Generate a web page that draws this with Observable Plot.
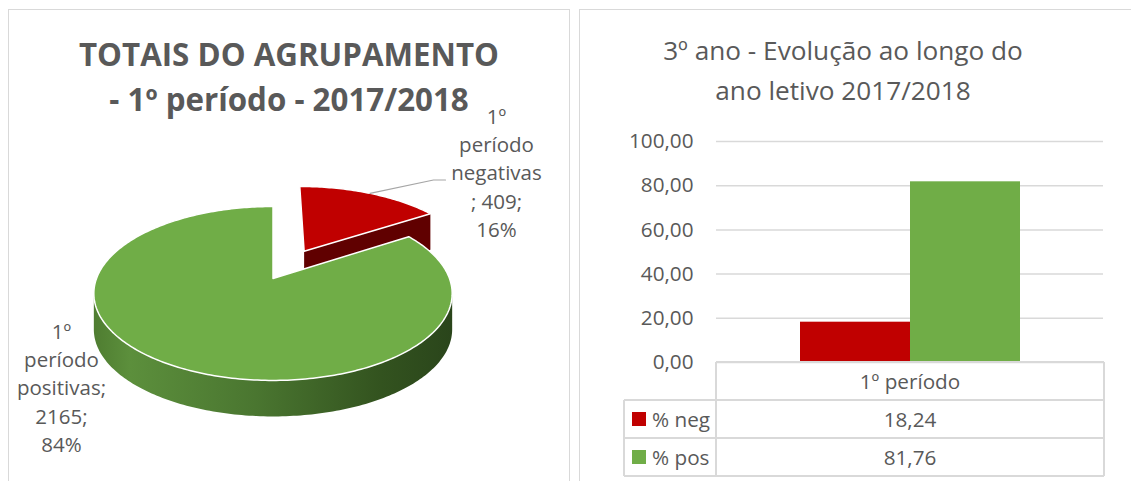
<!DOCTYPE html>
<html>
<head>
<meta charset="utf-8">
<script src="https://cdn.jsdelivr.net/npm/d3@7"></script>
<script src="https://cdn.jsdelivr.net/npm/@observablehq/plot@0.6"></script>
<style>
  html, body { margin: 0; padding: 0; background: #ffffff; }
  #root { position: relative; width: 1131px; height: 481px; overflow: hidden; font-family: "Open Sans", sans-serif; color: #595959; }
  .panel { position: absolute; border: 1.5px solid #d9d9d9; box-sizing: border-box; background: #fff; }
  .abs { position: absolute; }
  .hline { position: absolute; height: 1.5px; background: #d9d9d9; }
  .vline { position: absolute; width: 1.5px; background: #d9d9d9; }
  .cell { position: absolute; display: flex; align-items: center; justify-content: center; font-size: 20.7px; color: #595959; white-space: nowrap; }
  .sw { display: inline-block; width: 14px; height: 14px; margin-right: 6px; }
</style>
</head>
<body>
<div id="root"></div>
<script>
// ---------------- DATA ----------------
const pieTitle = ["TOTAIS DO AGRUPAMENTO", "- 1º período - 2017/2018"];
const pieCategories = ["1º período negativas", "1º período positivas"];
const pieValues = [409, 2165];
const pieColors = ["#c00000", "#70ad47"];

const barTitle = ["3º ano - Evolução ao longo do", "ano letivo 2017/2018"];
const barPeriods = ["1º período"];
const barSeries = ["% neg", "% pos"];
const barValues = [18.24, 81.76];
const barColors = ["#c00000", "#70ad47"];
const yTicks = [0, 20, 40, 60, 80, 100];

// ---------------- LAYOUT / STYLE ----------------
const TEXT = "#595959";
const FONT = "'Open Sans', sans-serif";
const H = 481;
const PIE_W = 575;
const BAR_LEFT = 575, BAR_W = 556;
// 3D pie projection (pixel geometry)
const G = {cx: 272.5, cy: 278, R: 176.5, ry: 84.4, k: 0.172, h: 36};
const explode = [0.39, 0];
const cutFaceColors = ["#600000", "#3a5e24"];
const sideStops = [
  [["0", "#5e0000"], ["1", "#4a0000"]],
  [["0", "#4f7d31"], ["0.1", "#5c8f3c"], ["0.45", "#4a7630"], ["0.8", "#33531f"], ["1", "#2a451b"]]
];
// label anchor (centre x, baseline of the last line)
const labelPos = [{x: 496, y: 236.7}, {x: 61, y: 451.7}];
const semicolonOwnLine = [true, false];
const leaderEnd = [{x: 433, y: 179.5}, {x: 445, y: 179.5}];
const titlePos = {x: 288.5, y: 110};

const fmt = v => v.toFixed(2).replace(".", ",");

// ---------------- PIE GEOMETRY ----------------
function proj(u, d, z = 0) {
  const s = 1 / (1 - G.k * d);
  return {x: G.cx + G.R * u * s, y: G.cy + G.ry * d * s + z};
}
const total = d3.sum(pieValues);
const arcs = d3.pie().sort(null)(pieValues);
const polys = [];
const STEP = Math.PI / 180;
function range(a0, a1) {
  const n = Math.max(2, Math.ceil((a1 - a0) / STEP));
  return d3.range(n + 1).map(i => a0 + (a1 - a0) * i / n);
}
const visLo = Math.PI / 2 + Math.asin(G.k), visHi = 3 * Math.PI / 2 - Math.asin(G.k);
arcs.forEach((a, i) => {
  const mid = (a.startAngle + a.endAngle) / 2;
  const ou = explode[i] * Math.sin(mid), od = -explode[i] * Math.cos(mid);
  const P = (t, r, z) => proj(ou + r * Math.sin(t), od - r * Math.cos(t), z);
  // cut faces
  [[a.endAngle, Math.sin(a.endAngle)], [a.startAngle, -Math.sin(a.startAngle)]].forEach(([t, vis]) => {
    if (vis > 0.05) {
      polys.push({pts: [P(t, 0, 0), P(t, 1, 0), P(t, 1, G.h), P(t, 0, G.h)], fill: cutFaceColors[i], stroke: "none", sw: 0});
    }
  });
  // outer side
  const s0 = Math.max(a.startAngle, visLo), s1 = Math.min(a.endAngle, visHi);
  if (s1 > s0) {
    const r = range(s0, s1);
    const pts = r.map(t => P(t, 1, 0)).concat(r.slice().reverse().map(t => P(t, 1, G.h)));
    polys.push({pts, fill: `url(#side${i})`, stroke: "none", sw: 0});
  }
  // top face
  const top = [P(0, 0, 0)].concat(range(a.startAngle, a.endAngle).map(t => P(t, 1, 0)));
  polys.push({pts: top, fill: pieColors[i], stroke: "#ffffff", sw: 1.5});
});

// labels
const labels = arcs.map((a, i) => {
  const pct = Math.round(100 * pieValues[i] / total);
  const words = pieCategories[i].split(" ");
  const txt = semicolonOwnLine[i]
    ? words.join("\n") + `\n; ${pieValues[i]};\n${pct}%`
    : words.join("\n") + `;\n${pieValues[i]};\n${pct}%`;
  return {x: labelPos[i].x, y: labelPos[i].y, text: txt};
});
// leader line for the exploded slice
const a0 = arcs[0];
const mid0 = (a0.startAngle + a0.endAngle) / 2;
const rim0 = proj(explode[0] * Math.sin(mid0) + Math.sin(mid0), -explode[0] * Math.cos(mid0) - Math.cos(mid0));
const leader = [rim0, leaderEnd[0], leaderEnd[1]];

const piePlot = Plot.plot({
  width: PIE_W, height: H, margin: 0,
  x: {domain: [0, PIE_W], range: [0, PIE_W], axis: null},
  y: {domain: [0, H], range: [0, H], axis: null},
  style: {background: "transparent", fontFamily: FONT, color: TEXT, overflow: "visible"},
  marks: [
    ...polys.map(p => Plot.line(p.pts, {x: "x", y: "y", curve: "linear-closed", fill: p.fill, stroke: p.stroke, strokeWidth: p.sw, strokeLinejoin: "round"})),
    Plot.line(leader, {x: "x", y: "y", stroke: "#a6a6a6", strokeWidth: 1.2}),
    Plot.text(labels, {x: "x", y: "y", text: "text", textAnchor: "middle", lineAnchor: "bottom", lineHeight: 1.385, fontSize: 20.5, fill: TEXT}),
    Plot.text([{x: titlePos.x, y: titlePos.y, text: pieTitle.join("\n")}], {x: "x", y: "y", text: "text", textAnchor: "middle", lineAnchor: "bottom", lineHeight: 1.438, fontSize: 31.3, fontWeight: "bold", fill: TEXT})
  ]
});
// gradients for the pie sides
const defs = d3.select(piePlot).insert("defs", ":first-child");
sideStops.forEach((stops, i) => {
  const g = defs.append("linearGradient").attr("id", `side${i}`).attr("x1", "0").attr("x2", "1").attr("y1", "0").attr("y2", "0");
  stops.forEach(([o, c]) => g.append("stop").attr("offset", o).attr("stop-color", c));
});

// ---------------- BAR CHART ----------------
const barRows = barSeries.map((s, i) => ({period: barPeriods[0], series: s, value: barValues[i]}));
const barPlot = Plot.plot({
  width: BAR_W, height: H,
  marginLeft: 141, marginRight: 28, marginTop: 141, marginBottom: 119,
  x: {type: "band", domain: barSeries, paddingInner: 0, paddingOuter: 0.752, axis: null},
  y: {domain: [0, 100]},
  color: {domain: barSeries, range: barColors},
  style: {background: "transparent", fontFamily: FONT, color: TEXT, fontSize: "20.7px", overflow: "visible"},
  marks: [
    Plot.ruleY(yTicks, {stroke: "#d9d9d9", strokeWidth: 1.5}),
    Plot.barY(barRows, {x: "series", y: "value", fill: "series"}),
    Plot.axisY({ticks: yTicks, tickSize: 0, tickPadding: 23, tickFormat: fmt, fontSize: 20.7, fill: TEXT, label: null}),
    Plot.text([barTitle.join("\n")], {frameAnchor: "top", dx: -67, dy: -42, lineAnchor: "bottom", lineHeight: 1.49, fontSize: 26.2, fill: TEXT})
  ]
});

// ---------------- PAGE ----------------
const root = document.getElementById("root");
function div(cls, style, html) {
  const d = document.createElement("div");
  d.className = cls;
  Object.assign(d.style, style);
  if (html != null) d.innerHTML = html;
  root.appendChild(d);
  return d;
}
div("panel", {left: "8px", top: "9px", width: "562px", height: "500px"});
div("panel", {left: "579px", top: "9px", width: "570px", height: "500px"});

piePlot.style.position = "absolute"; piePlot.style.left = "0px"; piePlot.style.top = "0px";
barPlot.style.position = "absolute"; barPlot.style.left = BAR_LEFT + "px"; barPlot.style.top = "0px";
root.appendChild(piePlot);
root.appendChild(barPlot);

// data table below the bars
const T = {left: 624, colX: 716, right: 1104, top: 362, rowH: 38};
const nRows = barSeries.length + 1;
const bottom = T.top + T.rowH * nRows;
for (let r = 0; r <= nRows; r++) {
  const y = T.top + r * T.rowH;
  const x0 = r <= 0 ? T.colX : T.left;
  div("hline", {left: x0 + "px", top: (y - 0.75) + "px", width: (T.right - x0) + "px"});
}
div("vline", {left: (T.colX - 0.75) + "px", top: T.top + "px", height: (bottom - T.top) + "px"});
div("vline", {left: (T.right - 0.75) + "px", top: T.top + "px", height: (bottom - T.top) + "px"});
div("vline", {left: (T.left - 0.75) + "px", top: (T.top + T.rowH) + "px", height: (bottom - T.top - T.rowH) + "px"});
div("cell", {left: T.colX + "px", top: T.top + "px", width: (T.right - T.colX) + "px", height: T.rowH + "px"}, barPeriods[0]);
barSeries.forEach((s, i) => {
  const y = T.top + T.rowH * (i + 1);
  const c = div("cell", {left: T.left + "px", top: y + "px", width: (T.colX - T.left) + "px", height: T.rowH + "px", justifyContent: "flex-start", paddingLeft: "8px", boxSizing: "border-box"});
  const sw = document.createElement("span"); sw.className = "sw"; sw.style.background = barColors[i];
  c.appendChild(sw);
  c.appendChild(document.createTextNode(s));
  div("cell", {left: T.colX + "px", top: y + "px", width: (T.right - T.colX) + "px", height: T.rowH + "px"}, fmt(barValues[i]));
});
</script>
</body>
</html>
